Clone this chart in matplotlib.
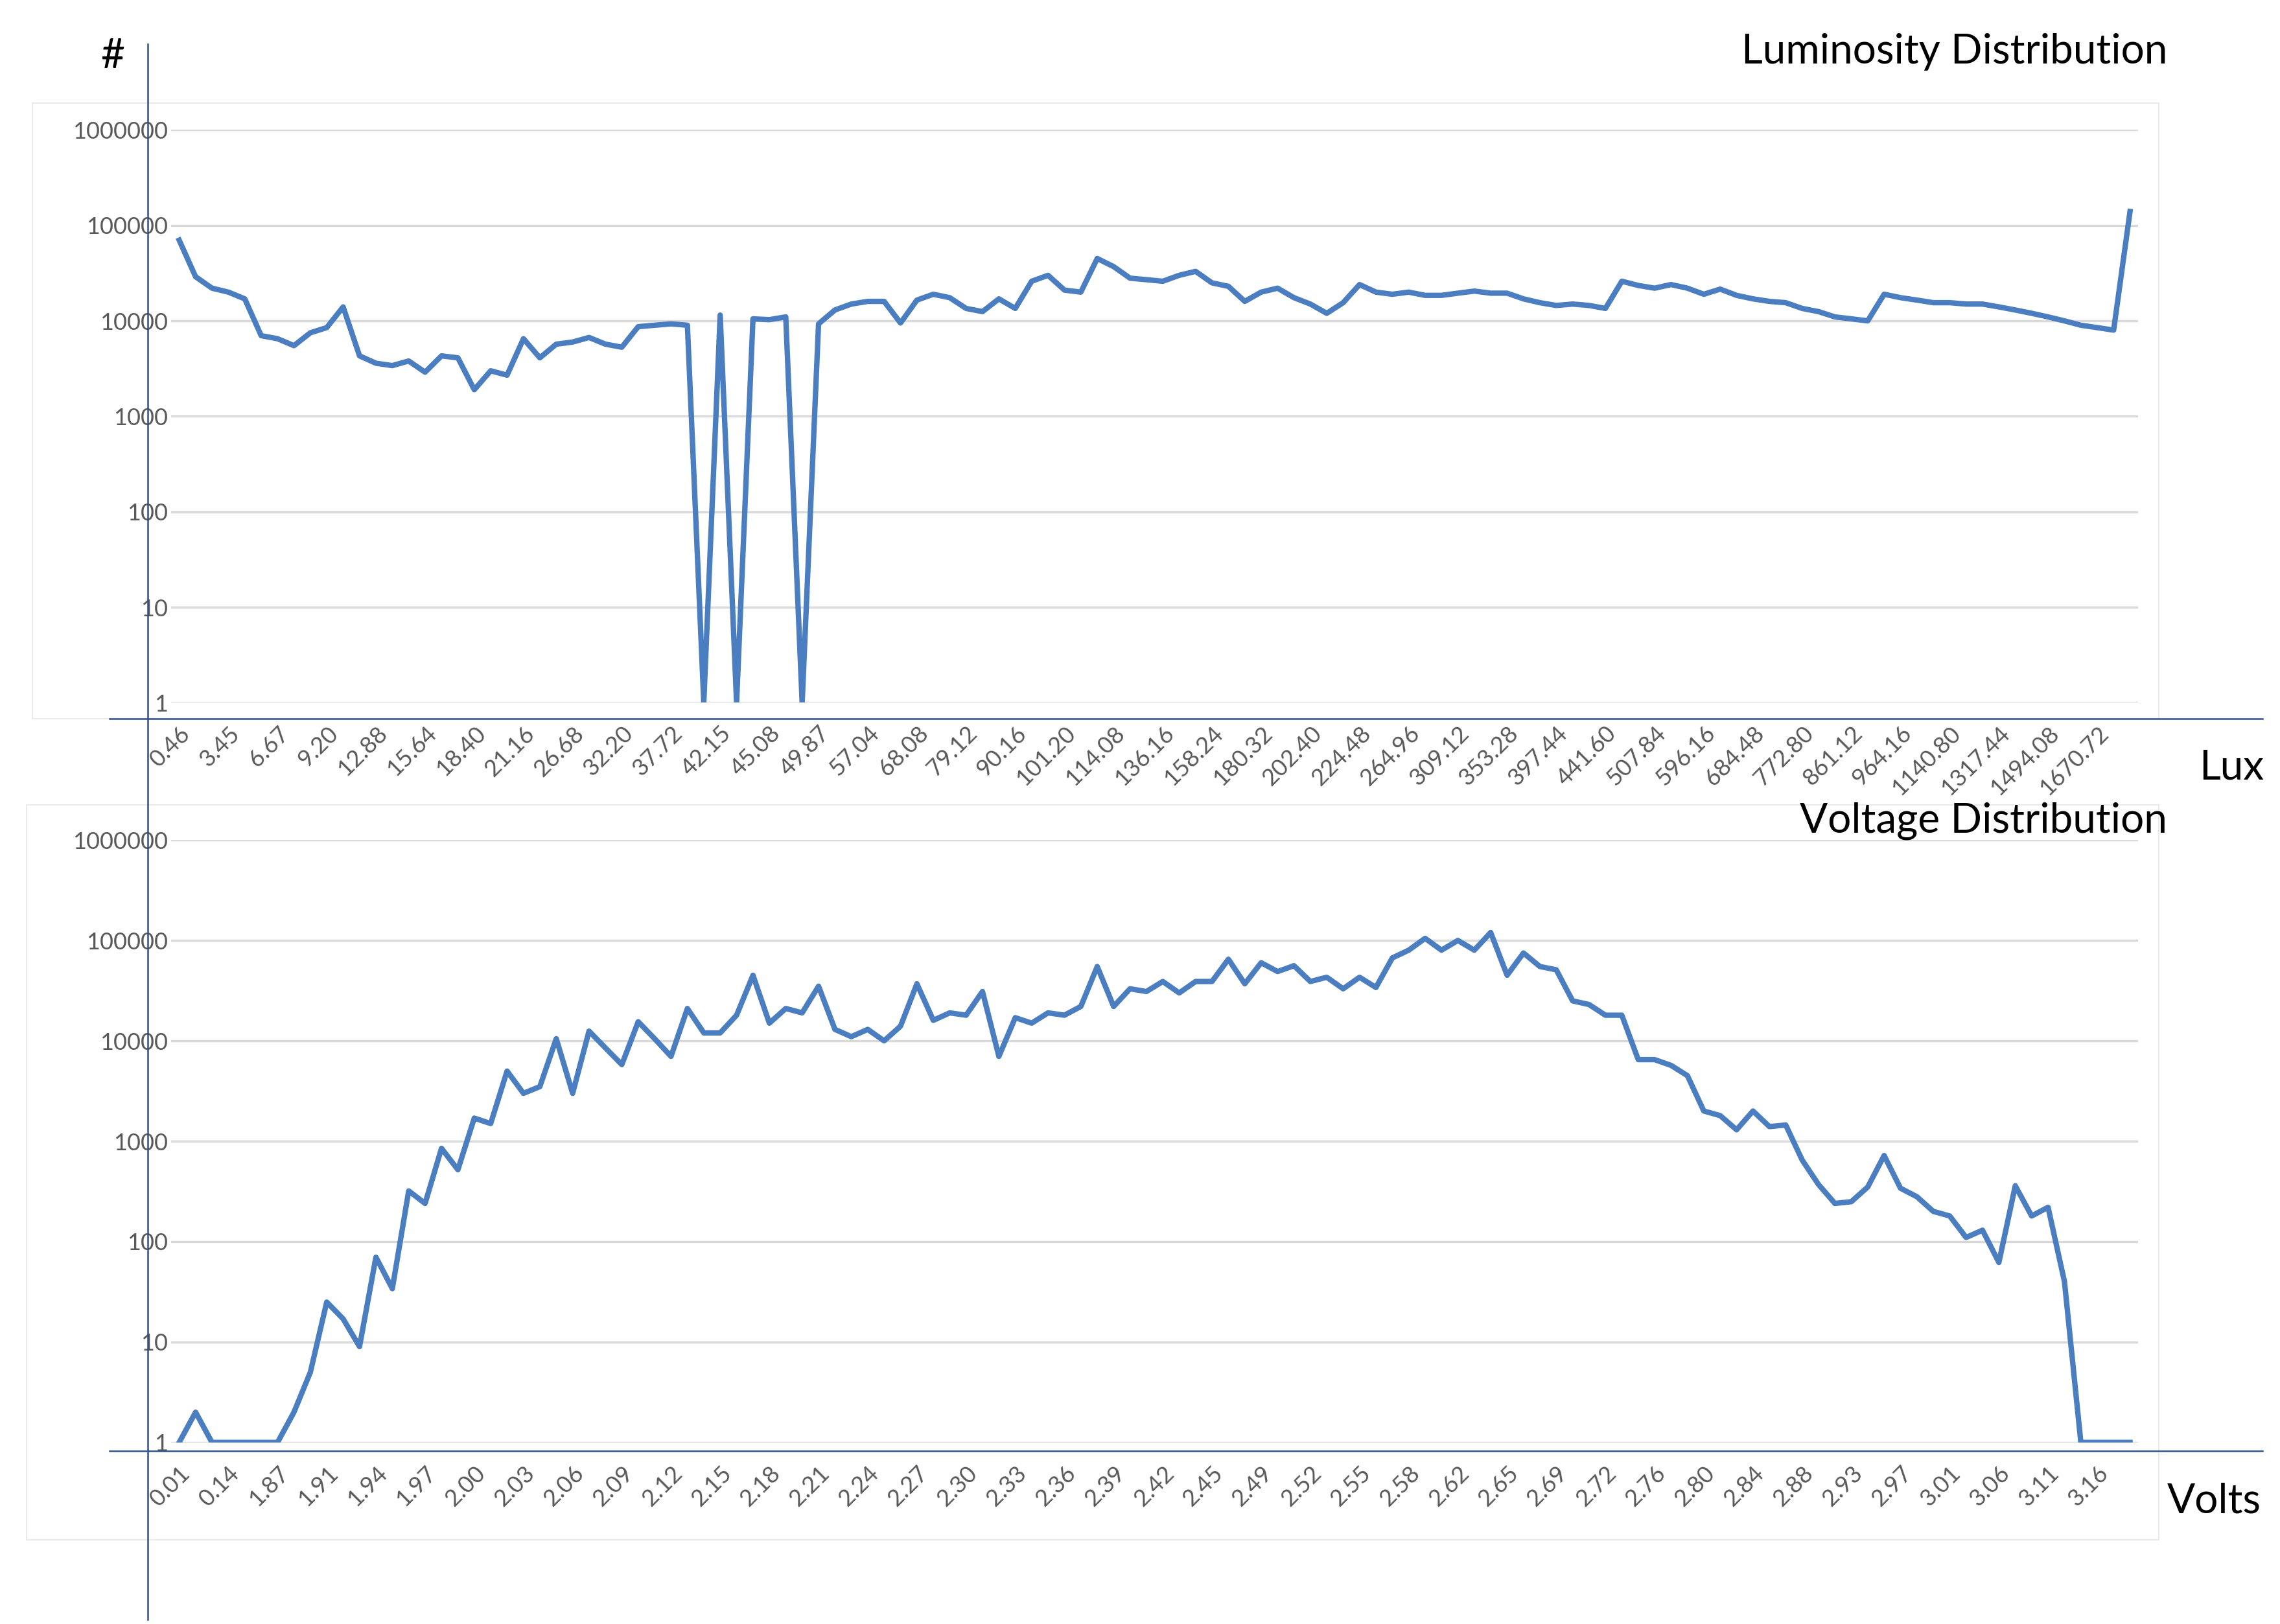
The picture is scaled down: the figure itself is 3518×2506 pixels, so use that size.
import matplotlib
matplotlib.use("Agg")
import matplotlib.pyplot as plt
from matplotlib.lines import Line2D
from matplotlib.patches import Rectangle
from matplotlib.ticker import FixedLocator, FuncFormatter, NullLocator

plt.rcParams['font.family'] = ['Lato', 'DejaVu Sans']

lux_labels = ["0.46","3.45","6.67","9.20","12.88","15.64","18.40","21.16","26.68","32.20",
              "37.72","42.15","45.08","49.87","57.04","68.08","79.12","90.16","101.20","114.08",
              "136.16","158.24","180.32","202.40","224.48","264.96","309.12","353.28","397.44","441.60",
              "507.84","596.16","684.48","772.80","861.12","964.16","1140.80","1317.44","1494.08","1670.72"]
lux_counts = [70000,29000,22000,20000,17000,7000,6500,5500,7500,8500,14000,4300,3600,3400,3800,2900,
              4300,4100,1900,3000,2700,6500,4100,5700,6000,6700,5700,5300,8700,9000,9300,9000,1,11500,
              1,10500,10300,11000,1,9300,13000,15000,16000,16000,9500,16500,19000,17500,13500,12500,
              17000,13500,26000,30000,21000,20000,45000,37000,28000,27000,26000,30000,33000,25000,23000,
              16000,20000,22000,17500,15000,12000,15500,24000,20000,19000,20000,18500,18500,19500,20500,
              19500,19500,17000,15500,14500,15000,14500,13500,26000,23500,22000,24000,22000,19000,21500,
              18500,17000,16000,15500,13500,12500,11000,10500,10000,19000,17500,16500,15500,15500,15000,
              15000,14000,13000,12000,11000,10000,9000,8500,8000,140000]

volt_labels = ["0.01","0.14","1.87","1.91","1.94","1.97","2.00","2.03","2.06","2.09","2.12","2.15",
               "2.18","2.21","2.24","2.27","2.30","2.33","2.36","2.39","2.42","2.45","2.49","2.52",
               "2.55","2.58","2.62","2.65","2.69","2.72","2.76","2.80","2.84","2.88","2.93","2.97",
               "3.01","3.06","3.11","3.16"]
volt_counts = [1,2,1,1,1,1,1,2,5,25,17,9,70,34,320,240,850,520,1700,1500,5000,3000,3500,10500,3000,
               12500,8500,5800,15500,10500,7000,21000,12000,12000,18000,45000,15000,21000,19000,35000,
               13000,11000,13000,10000,14000,37000,16000,19000,18000,31000,7000,17000,15000,19000,18000,
               22000,55000,22000,33000,31000,39000,30000,39000,39000,65000,37000,60000,49000,56000,39000,
               43000,33000,43000,34000,67000,80000,105000,80000,100000,80000,120000,45000,75000,55000,
               51000,25000,23000,18000,18000,6500,6500,5700,4500,2000,1800,1300,2000,1400,1450,650,370,
               240,250,350,720,340,280,200,180,110,130,62,360,180,220,40,1,1,1,1]

BLUE = "#4A7EC0"
fig = plt.figure(figsize=(35.18, 25.06), dpi=100)
W, H = 1560.0, 1100.0
def fx(x): return x / W
def fy(y): return 1 - y / H

for (x0, y0, x1, y1) in [(22, 70, 1477, 487), (18, 545, 1477, 1043)]:
    fig.add_artist(Rectangle((fx(x0), fy(y1)), fx(x1) - fx(x0), fy(y0) - fy(y1),
                             transform=fig.transFigure, fill=False, ec="#EAEAEA", lw=1.5))

def make(ax_rect, counts, labels):
    ax = fig.add_axes(ax_rect)
    x = list(range(len(counts)))
    ax.plot(x, counts, color=BLUE, lw=6, solid_joinstyle="round")
    ax.set_yscale("log")
    ax.set_ylim(1, 1e6)
    ax.set_xlim(-0.5, len(counts) - 0.5)
    ax.yaxis.set_major_locator(FixedLocator([1, 10, 100, 1000, 10000, 100000, 1000000]))
    ax.yaxis.set_minor_locator(NullLocator())
    ax.yaxis.set_major_formatter(FuncFormatter(lambda v, p: f"{int(round(v))}"))
    ax.set_xticks([3 * i for i in range(len(labels))])
    ax.set_xticklabels(labels, rotation=45, ha="right", rotation_mode="anchor")
    ax.tick_params(axis="both", length=0, labelsize=26, labelcolor="#595959")
    ax.tick_params(axis="x", pad=22)
    ax.grid(axis="y", color="#D9D9D9", lw=2.5)
    ax.set_axisbelow(True)
    for s in ax.spines.values():
        s.set_visible(False)
    ax.patch.set_alpha(0)
    return ax

make([fx(117), fy(476), fx(1463) - fx(117), fy(88) - fy(476)], lux_counts, lux_labels)
make([fx(117), fy(977), fx(1463) - fx(117), fy(569) - fy(977)], volt_counts, volt_labels)

fig.add_artist(Line2D([fx(101), fx(101)], [fy(30), fy(1097)], color="#2F4F8F", lw=1.8, transform=fig.transFigure))
fig.add_artist(Line2D([fx(75), fx(1548)], [fy(487), fy(487)], color="#2F4F8F", lw=1.8, transform=fig.transFigure))
fig.add_artist(Line2D([fx(75), fx(1548)], [fy(983), fy(983)], color="#2F4F8F", lw=1.8, transform=fig.transFigure))

fs = 46
fig.text(fx(77), fy(38), "#", fontsize=fs, ha="center", va="center")
fig.text(fx(1483), fy(35), "Luminosity Distribution", fontsize=fs, ha="right", va="center")
fig.text(fx(1527), fy(520), "Lux", fontsize=fs, ha="center", va="center")
fig.text(fx(1483), fy(556), "Voltage Distribution", fontsize=fs, ha="right", va="center")
fig.text(fx(1515), fy(1017), "Volts", fontsize=fs, ha="center", va="center")

fig.savefig("out.png", dpi=100)
